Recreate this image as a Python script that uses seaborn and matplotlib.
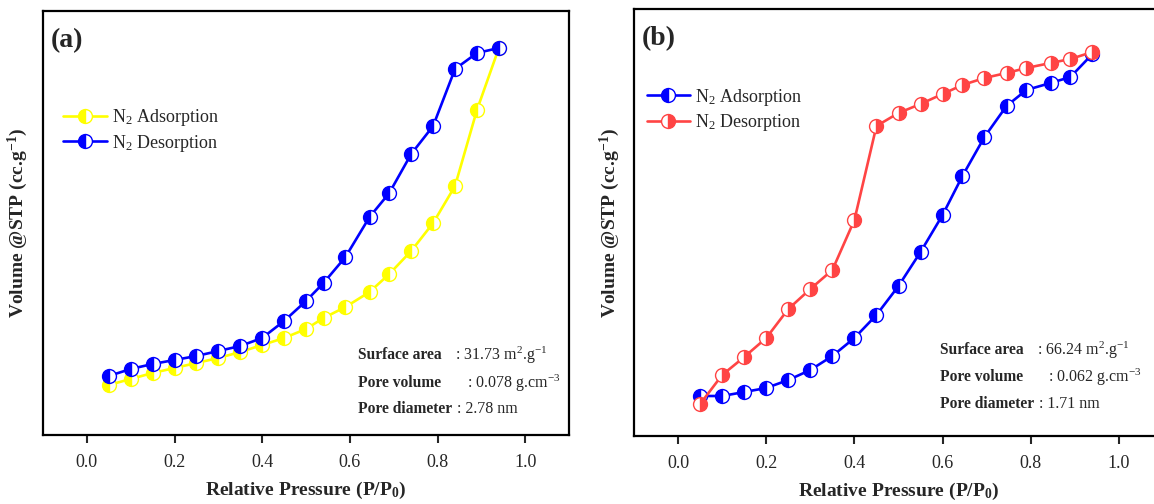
import pandas as pd
import matplotlib
matplotlib.use("Agg")
import matplotlib.pyplot as plt
import seaborn as sns

# relative pressure P/P0
p_a = [0.05, 0.10, 0.15, 0.20, 0.25, 0.30, 0.35, 0.40, 0.45, 0.50,
       0.54, 0.59, 0.645, 0.69, 0.74, 0.79, 0.84, 0.89, 0.94]
p_b = [0.05, 0.10, 0.15, 0.20, 0.25, 0.30, 0.35, 0.40, 0.45, 0.50,
       0.55, 0.60, 0.645, 0.695, 0.745, 0.79, 0.845, 0.89, 0.94]

# volume @STP (cc/g)
ads_a = [2.5, 2.8, 3.1, 3.35, 3.6, 3.85, 4.15, 4.5, 4.85, 5.3,
         5.85, 6.4, 7.15, 8.05, 9.2, 10.6, 12.45, 16.25, 19.35]
des_a = [2.95, 3.3, 3.55, 3.75, 3.95, 4.2, 4.45, 4.85, 5.7, 6.7,
         7.6, 8.9, 10.9, 12.1, 14.05, 15.45, 18.3, 19.1, 19.35]
ads_b = [4.0, 4.0, 4.4, 4.8, 5.6, 6.6, 8.0, 9.8, 12.1, 15.0,
         18.4, 22.1, 26.0, 29.9, 33.0, 34.6, 35.3, 35.9, 38.2]
des_b = [3.2, 6.1, 7.9, 9.8, 12.7, 14.7, 16.6, 21.6, 31.0, 32.3,
         33.2, 34.2, 35.1, 35.8, 36.3, 36.8, 37.3, 37.7, 38.4]

props_a = [("Surface area", ": 31.73 m$^2$.g$^{-1}$"),
           ("Pore volume", ": 0.078 g.cm$^{-3}$"),
           ("Pore diameter", ": 2.78 nm")]
props_b = [("Surface area", ": 66.24 m$^2$.g$^{-1}$"),
           ("Pore volume", ": 0.062 g.cm$^{-3}$"),
           ("Pore diameter", ": 1.71 nm")]

sns.set_style("white")
plt.rcParams["font.family"] = ["Liberation Serif", "DejaVu Serif"]
plt.rcParams["mathtext.fontset"] = "custom"
plt.rcParams["mathtext.rm"] = "Liberation Serif"
plt.rcParams["mathtext.it"] = "Liberation Serif:italic"
plt.rcParams["mathtext.bf"] = "Liberation Serif:bold"

W, H = 1154, 504
fig = plt.figure(figsize=(W / 100, H / 100), dpi=100)
ax1 = fig.add_axes([43 / W, 1 - 435 / H, (569 - 43) / W, (435 - 11) / H])
ax2 = fig.add_axes([634 / W, 1 - 436 / H, (1163 - 634) / W, (436 - 9) / H])


def curve(ax, x, y, color, fill, label):
    df = pd.DataFrame({"p": x, "v": y})
    sns.lineplot(data=df, x="p", y="v", ax=ax, color=color, lw=1.9,
                 marker="o", markersize=10, fillstyle=fill,
                 markerfacecoloralt="white", markeredgecolor=color,
                 markeredgewidth=1.0, sort=False, estimator=None, label=label)


curve(ax1, p_a, ads_a, "#FFFF00", "left", "N$_2$ Adsorption")
curve(ax1, p_a, des_a, "#0000FF", "left", "N$_2$ Desorption")
curve(ax2, p_b, ads_b, "#0000FF", "left", "N$_2$ Adsorption")
curve(ax2, p_b, des_b, "#FF4444", "right", "N$_2$ Desorption")

ax1.set_ylim(0, 21.2)
ax2.set_ylim(0, 42.7)

for ax, lab in [(ax1, "(a)"), (ax2, "(b)")]:
    ax.set_xlim(-0.1, 1.1)
    ax.set_xticks([0.0, 0.2, 0.4, 0.6, 0.8, 1.0])
    ax.set_xticklabels(["0.0", "0.2", "0.4", "0.6", "0.8", "1.0"])
    ax.set_yticks([])
    ax.tick_params(axis="x", direction="out", length=6, width=1.5,
                   labelsize=13, pad=8, bottom=True)
    for s in ax.spines.values():
        s.set_linewidth(1.6)
        s.set_color("black")
    ax.set_xlabel("Relative Pressure (P/P$_\\mathbf{0}$)", fontsize=14,
                  fontweight="bold", labelpad=6)
    ax.set_ylabel("Volume @STP (cc.g$^\\mathbf{-1}$)", fontsize=14,
                  fontweight="bold", labelpad=9)
    ax.text(0.015, 0.93, lab, transform=ax.transAxes, fontsize=20,
            fontweight="bold", va="center")
    ax.legend(loc="upper left", frameon=False, fontsize=13,
              handlelength=2.4, handletextpad=0.3, labelspacing=0.25,
              borderaxespad=0)

leg1 = ax1.get_legend()
leg1.set_bbox_to_anchor((0.025, 0.79))
leg2 = ax2.get_legend()
leg2.set_bbox_to_anchor((0.01, 0.835))

# property text blocks
for x0, x1s, ys, props in [(358, [455, 467, 457], [355, 383, 409], props_a),
                           (940, [1037, 1048, 1039], [350, 377, 404], props_b)]:
    for (name, val), x1, y in zip(props, x1s, ys):
        fig.text(x0 / W, 1 - y / H, name, fontsize=11.2, fontweight="bold",
                 va="center")
        fig.text(x1 / W, 1 - y / H, val, fontsize=11.5, va="center")

fig.savefig("out.png", dpi=100)
